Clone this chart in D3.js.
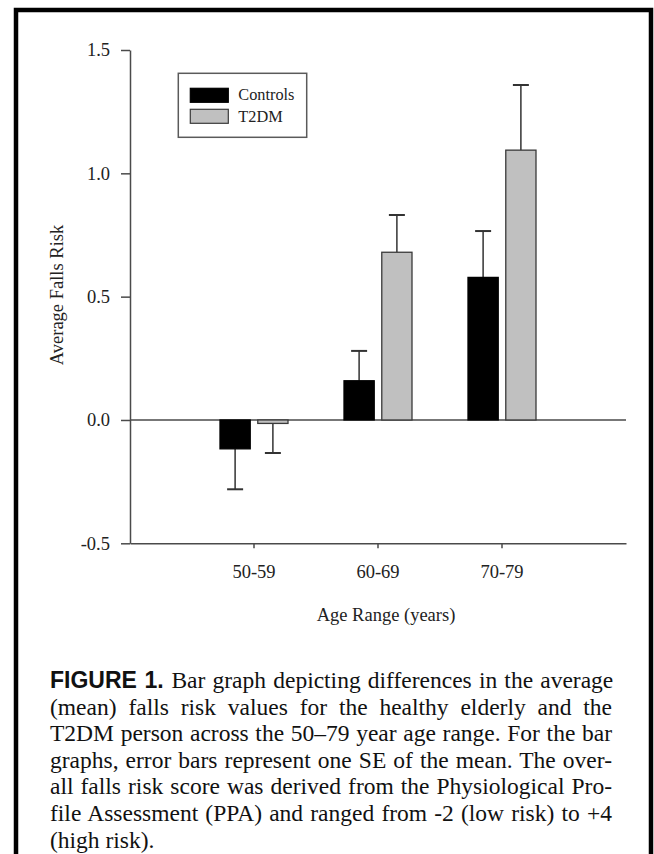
<!DOCTYPE html>
<html>
<head>
<meta charset="utf-8">
<script src="https://cdn.jsdelivr.net/npm/d3@7"></script>
<style>
  body { margin: 0; background: #fff; }
  svg text, svg tspan { font-family: "Liberation Serif", "Times New Roman", serif; }
</style>
</head>
<body>
<svg id="fig" width="654" height="854"></svg>
<script>
// data
var groups = ["50-59", "60-69", "70-79"];
var subgroups = ["Controls", "T2DM"];
var controlsMean = [-0.117, 0.159, 0.578];
var controlsSE = [0.164, 0.121, 0.188];
var t2dmMean = [-0.014, 0.68, 1.094];
var t2dmSE = [0.12, 0.151, 0.264];
var yTicks = [-0.5, 0.0, 0.5, 1.0, 1.5];

var captionLines = [
    "Bar graph depicting differences in the average",
    "(mean) falls risk values for the healthy elderly and the",
    "T2DM person across the 50\u201379 year age range. For the bar",
    "graphs, error bars represent one SE of the mean. The over-",
    "all falls risk score was derived from the Physiological Pro-",
    "file Assessment (PPA) and ranged from -2 (low risk) to +4",
    "(high risk)."
];

var colors = { "Controls": "#000000", "T2DM": "#c0c0c0" };

var svg = d3.select("#fig");

// frame around the figure (open at the bottom)
svg.append("path")
    .attr("d", "M16,854 V10 H651 V854")
    .attr("fill", "none")
    .attr("stroke", "#000")
    .attr("stroke-width", 4.5);

var plotLeft = 130, plotRight = 626, plotTop = 50, plotBottom = 543.3;

var y = d3.scaleLinear()
    .domain([-0.5, 1.5])
    .range([plotBottom, plotTop]);

var x = d3.scaleBand()
    .domain(groups)
    .range([plotLeft, plotRight])
    .paddingInner(0)
    .paddingOuter(0.5);

var xSub = d3.scaleBand()
    .domain(subgroups)
    .range([-34, 34])
    .paddingInner(0.2);

// build rows for drawing
var rows = [];
groups.forEach(function(g, i) {
    rows.push({ group: g, key: "Controls", mean: controlsMean[i], se: controlsSE[i] });
    rows.push({ group: g, key: "T2DM", mean: t2dmMean[i], se: t2dmSE[i] });
});

var axisColor = "#4a4a4a";

// zero line
svg.append("line")
    .attr("x1", plotLeft).attr("x2", plotRight)
    .attr("y1", y(0)).attr("y2", y(0))
    .attr("stroke", axisColor)
    .attr("stroke-width", 1.5);

// error bars (one sided, away from zero)
var err = svg.append("g").attr("class", "errors");
rows.forEach(function(d) {
    var cx = x(d.group) + x.bandwidth() / 2 + xSub(d.key) + xSub.bandwidth() / 2;
    var end = d.mean >= 0 ? d.mean + d.se : d.mean - d.se;
    err.append("line")
        .attr("x1", cx).attr("x2", cx)
        .attr("y1", y(d.mean)).attr("y2", y(end))
        .attr("stroke", "#333").attr("stroke-width", 1.5);
    err.append("line")
        .attr("x1", cx - 8).attr("x2", cx + 8)
        .attr("y1", y(end)).attr("y2", y(end))
        .attr("stroke", "#333").attr("stroke-width", 2);
});

// bars
svg.append("g").attr("class", "bars")
    .selectAll("rect")
    .data(rows)
    .enter()
    .append("rect")
    .attr("x", function(d) { return x(d.group) + x.bandwidth() / 2 + xSub(d.key); })
    .attr("width", xSub.bandwidth())
    .attr("y", function(d) { return y(Math.max(0, d.mean)); })
    .attr("height", function(d) { return Math.abs(y(d.mean) - y(0)); })
    .attr("fill", function(d) { return colors[d.key]; })
    .attr("stroke", function(d) { return d.key == "T2DM" ? "#3a3a3a" : "#000"; })
    .attr("stroke-width", 1.3);

// y axis
var fmt = d3.format(".1f");
var yAxis = svg.append("g")
    .attr("transform", "translate(" + plotLeft + ",0)")
    .call(d3.axisLeft(y)
        .tickValues(yTicks)
        .tickFormat(function(d) { return fmt(d).replace("\u2212", "-"); })
        .tickSize(9)
        .tickSizeOuter(0)
        .tickPadding(11));

// x axis
var xAxis = svg.append("g")
    .attr("transform", "translate(0," + plotBottom + ")")
    .call(d3.axisBottom(x)
        .tickSize(5)
        .tickSizeOuter(0)
        .tickPadding(17));

[yAxis, xAxis].forEach(function(a) {
    a.select(".domain").attr("stroke", axisColor).attr("stroke-width", 1.5);
    a.selectAll(".tick line").attr("stroke", axisColor).attr("stroke-width", 1.5);
    a.selectAll(".tick text")
        .attr("fill", "#222")
        .style("font-family", "'Liberation Serif', serif")
        .style("font-size", "18.5px");
});

// axis titles
svg.append("text")
    .attr("x", 386).attr("y", 621)
    .attr("text-anchor", "middle")
    .attr("fill", "#222")
    .style("font-size", "18.5px")
    .text("Age Range (years)");

svg.append("text")
    .attr("transform", "translate(63,295) rotate(-90)")
    .attr("text-anchor", "middle")
    .attr("fill", "#222")
    .style("font-size", "18.5px")
    .text("Average Falls Risk");

// legend
var legend = svg.append("g").attr("transform", "translate(178.3,73.3)");
legend.append("rect")
    .attr("width", 128.4).attr("height", 64)
    .attr("fill", "#fff")
    .attr("stroke", "#5a5a5a")
    .attr("stroke-width", 1.5);
subgroups.forEach(function(k, i) {
    legend.append("rect")
        .attr("x", 12).attr("y", 15 + i * 21)
        .attr("width", 38).attr("height", 14)
        .attr("fill", colors[k])
        .attr("stroke", k == "T2DM" ? "#3a3a3a" : "#000")
        .attr("stroke-width", 1.2);
    legend.append("text")
        .attr("x", 60).attr("y", 27 + i * 22)
        .attr("fill", "#222")
        .style("font-size", "16.3px")
        .text(k);
});

// caption, justified line by line
var capLeft = 50, capRight = 612, capTop = 688, lineH = 26.6;
var cap = svg.append("g").attr("class", "caption");
captionLines.forEach(function(line, i) {
    var t = cap.append("text")
        .attr("x", capLeft)
        .attr("y", capTop + i * lineH)
        .attr("fill", "#111")
        .style("font-family", "'Liberation Serif', serif")
        .style("font-size", "23.5px");
    if (i == 0) {
        t.append("tspan")
            .style("font-family", "'Liberation Sans', Arial, sans-serif")
            .style("font-weight", "bold")
            .style("font-size", "23px")
            .text("FIGURE 1. ");
    }
    t.append("tspan")
        .style("font-family", "'Liberation Serif', serif")
        .text(line);
    if (i < captionLines.length - 1) {
        var w = t.node().getComputedTextLength();
        var spaces = (line.match(/ /g) || []).length + (i == 0 ? 1 : 0);
        var extra = (capRight - capLeft - w) / spaces;
        t.style("word-spacing", extra + "px");
    }
});
</script>
</body>
</html>
